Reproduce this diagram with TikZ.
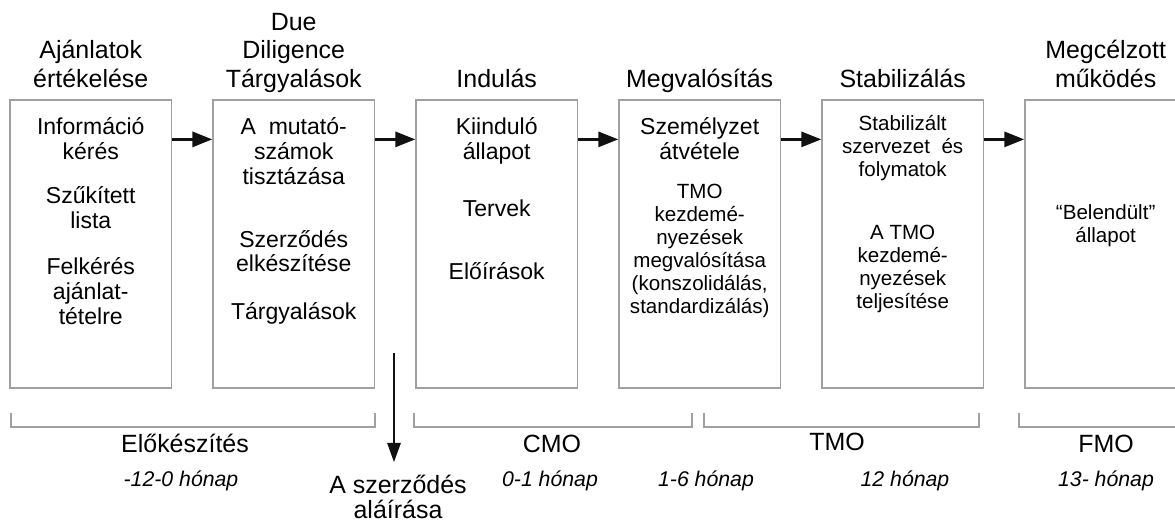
\documentclass[tikz,border=0pt]{standalone}
\usepackage{fontspec}
\setmainfont{Liberation Sans}
\usepackage{tikz}
\usetikzlibrary{arrows.meta,positioning}
\definecolor{tgtgray}{HTML}{A0A0A0}
\definecolor{tgtdark}{HTML}{111111}
\tikzset{
  stage/.style={draw=tgtgray,line width=0.7pt,minimum width=3.23cm,minimum height=5.76cm,inner sep=0pt},
  stagehead/.style={align=center,inner sep=0pt,font=\fontsize{14.2pt}{16.2pt}\selectfont,execute at end node={\rule[-0.12cm]{0pt}{0.12cm}}},
  boxtext/.style={align=center,inner sep=0pt,font=\fontsize{13.1pt}{14.2pt}\selectfont,execute at begin node={\rule{0pt}{0.45cm}}},
  boxtextsm/.style={boxtext,font=\fontsize{11.7pt}{13.1pt}\selectfont},
  phaselab/.style={anchor=base,inner sep=0pt,font=\fontsize{14.2pt}{16.2pt}\selectfont},
  monthlab/.style={anchor=base,inner sep=0pt,font=\fontsize{12.1pt}{14pt}\selectfont\itshape},
  ar/.style={-{Triangle[length=0.4cm,width=0.3cm]},draw=tgtdark,line width=1.7pt},
  sigar/.style={-{Triangle[length=0.38cm,width=0.27cm]},draw=tgtdark,line width=0.6pt},
  brk/.style={draw=tgtgray,line width=0.7pt},
}
\begin{document}
\begin{tikzpicture}
  \clip (0,0) rectangle (23.5,10.6);
  % stages
  \node[stage] (b1) at (1.815,5.72) {};
  \node[stage,right=0.805cm of b1] (b2) {};
  \node[stage,right=0.805cm of b2] (b3) {};
  \node[stage,right=0.805cm of b3] (b4) {};
  \node[stage,right=0.805cm of b4] (b5) {};
  \node[stage,right=0.805cm of b5] (b6) {};
  \foreach \a/\b in {b1/b2,b2/b3,b3/b4,b4/b5,b5/b6}
    \draw[ar] ([yshift=-0.8cm]\a.north east) -- ([yshift=-0.8cm]\b.north west);
  % headings
  \node[stagehead,above=0.12cm of b1] (h1) {Ajánlatok\\értékelése};
  \node[stagehead,above=0.12cm of b2] (h2) {Due\\Diligence\\Tárgyalások};
  \node[stagehead,above=0.12cm of b3] (h3) {Indulás};
  \node[stagehead,above=0.12cm of b4] (h4) {Megvalósítás};
  \node[stagehead,above=0.12cm of b5] (h5) {Stabilizálás};
  \node[stagehead,above=0.12cm of b6] (h6) {Megcélzott\\működés};
  % box contents
  \node[boxtext,below=0.35cm of b1.north] (t1) {Információ\\kérés\\[0.38cm]Szűkített\\lista\\[0.44cm]Felkérés\\ajánlat-\\tételre};
  \node[boxtext,below=0.35cm of b2.north] (t2) {A\ \ mutató-\\számok\\tisztázása\\[0.76cm]Szerződés\\elkészítése\\[0.46cm]Tárgyalások};
  \node[boxtext,below=0.35cm of b3.north] (t3) {Kiinduló\\állapot\\[0.64cm]Tervek\\[0.76cm]Előírások};
  \node[boxtext,below=0.35cm of b4.north] (t4a) {Személyzet\\átvétele};
  \node[boxtextsm,below=1.69cm of b4.north] (t4b) {TMO\\kezdemé-\\nyezések\\megvalósítása\\(konszolidálás,\\standardizálás)};
  \node[boxtextsm,below=0.31cm of b5.north] (t5) {Stabilizált\\szervezet\ \ és\\folymatok\\[0.8cm]A TMO\\kezdemé-\\nyezések\\teljesítése};
  \node[boxtextsm,below=2.09cm of b6.north] (t6) {“Belendült”\\állapot};
  % phases
  \draw[brk] (0.22,2.34) |- (7.5,2.06) -- (7.5,2.34);
  \draw[brk] (8.28,2.34) |- (13.84,2.06) -- (13.84,2.34);
  \draw[brk] (14.08,2.34) |- (19.58,2.06) -- (19.58,2.34);
  \draw[brk] (20.38,2.34) |- (23.6,2.06);
  \node[phaselab] (prep) at (3.7,1.54) {Előkészítés};
  \node[monthlab] (prepm) at (3.62,0.86) {-12-0 hónap};
  \node[phaselab] (cmo) at (11.04,1.54) {CMO};
  \node[monthlab] (cmom) at (11.0,0.86) {0-1 hónap};
  \node[monthlab] (tmoa) at (14.12,0.86) {1-6 hónap};
  \node[phaselab] (tmo) at (16.74,1.58) {TMO};
  \node[monthlab] (tmob) at (18.1,0.86) {12 hónap};
  \node[phaselab] (fmo) at (22.12,1.54) {FMO};
  \node[monthlab] (fmom) at (22.12,0.86) {13- hónap};
  % signing
  \coordinate (sign) at (7.88,3.54);
  \node[boxtext,font=\fontsize{14.2pt}{14.2pt}\selectfont,anchor=north] (signing) at (7.96,1.11) {A szerződés\\aláírása};
  \draw[sigar,shorten >=0.25cm] (sign) -- (sign |- signing.north);
\end{tikzpicture}
\end{document}
